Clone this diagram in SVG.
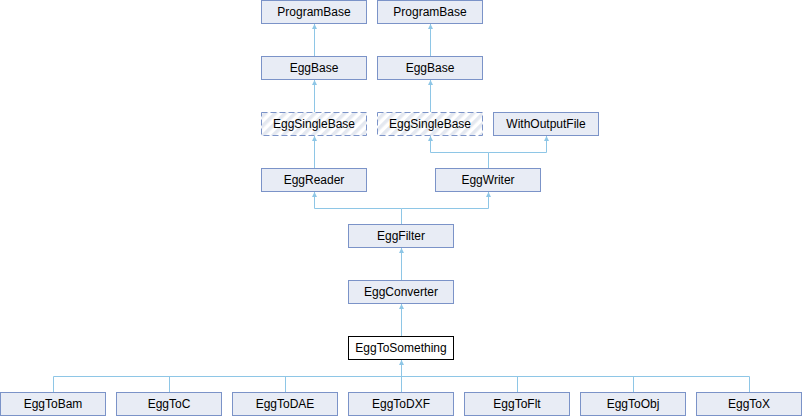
<svg xmlns="http://www.w3.org/2000/svg" width="802" height="416" viewBox="0 0 802 416">
<style>
.n{fill:#e8ecf5;stroke:#7b93c8;stroke-width:1}
.d{fill:url(#hatch);stroke:#7b93c8;stroke-width:1;stroke-dasharray:6,3}
.w{fill:#ffffff;stroke:#000000;stroke-width:1}
.t{font-family:"Liberation Sans",Arial,sans-serif;font-size:12px;fill:#000;text-anchor:middle}
.e{fill:none;stroke:#8ec6e6;stroke-width:1}
</style>
<defs>
<pattern id="hatch" patternUnits="userSpaceOnUse" width="7" height="7" patternTransform="rotate(45)">
<rect width="7" height="7" fill="#ffffff"/>
<rect width="3.5" height="7" fill="#e4e8f0"/>
</pattern>
<marker id="a" viewBox="0 0 10 10" refX="10" refY="5" markerWidth="5" markerHeight="5" orient="auto" markerUnits="userSpaceOnUse">
<path d="M0,0 L10,5 L0,10 z" fill="#8ec6e6"/>
</marker>
</defs>
<g id="edges">
<path class="e" d="M314.5,56 V24" marker-end="url(#a)"/>
<path class="e" d="M430.5,56 V24" marker-end="url(#a)"/>
<path class="e" d="M314.5,112 V80" marker-end="url(#a)"/>
<path class="e" d="M430.5,112 V80" marker-end="url(#a)"/>
<path class="e" d="M314.5,168 V136" marker-end="url(#a)"/>
<path class="e" d="M488.5,168 V152.5 H430.5 V136" marker-end="url(#a)"/>
<path class="e" d="M488.5,152.5 H546.5 V136" marker-end="url(#a)"/>
<path class="e" d="M401.5,224 V208.5 H314.5 V192" marker-end="url(#a)"/>
<path class="e" d="M401.5,208.5 H488.5 V192" marker-end="url(#a)"/>
<path class="e" d="M401.5,280 V248" marker-end="url(#a)"/>
<path class="e" d="M401.5,336 V304" marker-end="url(#a)"/>
<path class="e" d="M401.5,392 V360" marker-end="url(#a)"/>
<path class="e" d="M53.5,392 V376.5 H749.5 V392"/>
<path class="e" d="M169.5,376.5 V392 M285.5,376.5 V392 M517.5,376.5 V392 M633.5,376.5 V392"/>
</g>
<g id="ProgramBase1"><rect class="n" x="261.5" y="0.5" width="105" height="23"/><text class="t" x="314" y="16">ProgramBase</text></g>
<g id="ProgramBase2"><rect class="n" x="377.5" y="0.5" width="105" height="23"/><text class="t" x="430" y="16">ProgramBase</text></g>
<g id="EggBase1"><rect class="n" x="261.5" y="56.5" width="105" height="23"/><text class="t" x="314" y="72">EggBase</text></g>
<g id="EggBase2"><rect class="n" x="377.5" y="56.5" width="105" height="23"/><text class="t" x="430" y="72">EggBase</text></g>
<g id="EggSingleBase1"><rect class="d" x="261.5" y="112.5" width="105" height="23"/><text class="t" x="314" y="128">EggSingleBase</text></g>
<g id="EggSingleBase2"><rect class="d" x="377.5" y="112.5" width="105" height="23"/><text class="t" x="430" y="128">EggSingleBase</text></g>
<g id="WithOutputFile"><rect class="n" x="493.5" y="112.5" width="105" height="23"/><text class="t" x="546" y="128">WithOutputFile</text></g>
<g id="EggReader"><rect class="n" x="261.5" y="168.5" width="105" height="23"/><text class="t" x="314" y="184">EggReader</text></g>
<g id="EggWriter"><rect class="n" x="435.5" y="168.5" width="105" height="23"/><text class="t" x="488" y="184">EggWriter</text></g>
<g id="EggFilter"><rect class="n" x="348.5" y="224.5" width="105" height="23"/><text class="t" x="401" y="240">EggFilter</text></g>
<g id="EggConverter"><rect class="n" x="348.5" y="280.5" width="105" height="23"/><text class="t" x="401" y="296">EggConverter</text></g>
<g id="EggToSomething"><rect class="w" x="348.5" y="336.5" width="105" height="23"/><text class="t" x="401" y="352">EggToSomething</text></g>
<g id="EggToBam"><rect class="n" x="0.5" y="392.5" width="105" height="23"/><text class="t" x="53" y="408">EggToBam</text></g>
<g id="EggToC"><rect class="n" x="116.5" y="392.5" width="105" height="23"/><text class="t" x="169" y="408">EggToC</text></g>
<g id="EggToDAE"><rect class="n" x="232.5" y="392.5" width="105" height="23"/><text class="t" x="285" y="408">EggToDAE</text></g>
<g id="EggToDXF"><rect class="n" x="348.5" y="392.5" width="105" height="23"/><text class="t" x="401" y="408">EggToDXF</text></g>
<g id="EggToFlt"><rect class="n" x="464.5" y="392.5" width="105" height="23"/><text class="t" x="517" y="408">EggToFlt</text></g>
<g id="EggToObj"><rect class="n" x="580.5" y="392.5" width="105" height="23"/><text class="t" x="633" y="408">EggToObj</text></g>
<g id="EggToX"><rect class="n" x="696.5" y="392.5" width="105" height="23"/><text class="t" x="749" y="408">EggToX</text></g>
</svg>
